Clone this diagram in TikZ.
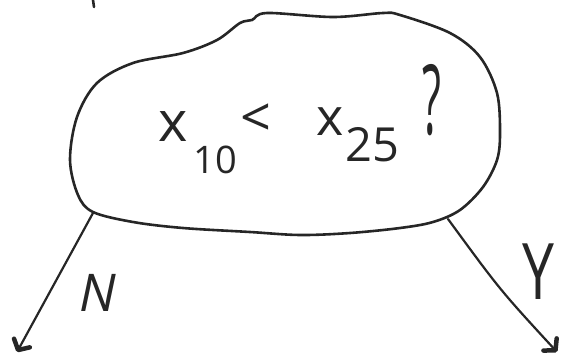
\documentclass[tikz,border=0pt]{standalone}
\usepackage{fontspec}
\setmainfont{Open Sans}
\usetikzlibrary{arrows.meta}

\begin{document}
\begin{tikzpicture}[x=1pt,y=-1pt,
 ink/.style={draw=black!85,line width=2.6pt,line cap=round,line join=round},
 branch/.style={draw=black!85,line width=2.2pt,line cap=round,
                -{Straight Barb[length=8pt,width=18pt,line width=4.5pt,round]}},
 glyph/.style={inner sep=0pt,text=black!85},
 answer/.style={glyph,font=\fontsize{52}{52}\selectfont}]
 \useasboundingbox (0,0) rectangle (561,360);
 \draw[ink] (93,0)--(94,7);
 \draw[ink] plot[smooth cycle,tension=.55] coordinates {
   (70,160) (77,117) (97,83) (133,63) (183,53) (217,40) (240,23) (252,20)
   (267,13) (333,17) (383,13) (400,15) (450,33) (480,57) (497,93) (500,133)
   (497,160) (483,187) (460,210) (433,222) (400,228) (350,233) (300,235)
   (250,232) (183,228) (133,222) (93,212) (78,195)};
 \node[glyph,font=\fontsize{56}{56}\selectfont] (x1) at (173,127) {x};
 \node[glyph,font=\fontsize{38}{38}\selectfont] (s1) at (215,160) {10};
 \node[glyph,font=\fontsize{54}{54}\selectfont] (lt) at (256,120) {<};
 \node[glyph,font=\fontsize{52}{52}\selectfont] (x2) at (330,122) {x};
 \node[glyph,font=\fontsize{47}{47}\selectfont] (s2) at (372,145) {25};
 \node[glyph,font=\fontsize{44}{44}\selectfont] (qm) at (432,100) {\scalebox{1}[2.2]{?}};
 \coordinate (nout) at (93,213);
 \coordinate (yout) at (448,219);
 \coordinate (ntip) at (17,352);
 \coordinate (ytip) at (557,352);
 \draw[branch] (nout)--(ntip);
 \draw[branch] (yout) .. controls (500,290) .. (ytip);
 \node[answer,font=\fontsize{52}{52}\itshape] (no) at (98,293) {N};
 \node[answer,font=\fontsize{60}{60}\selectfont] (yes) at (538,272) {\scalebox{0.95}[1.3]{Y}};
\end{tikzpicture}
\end{document}
